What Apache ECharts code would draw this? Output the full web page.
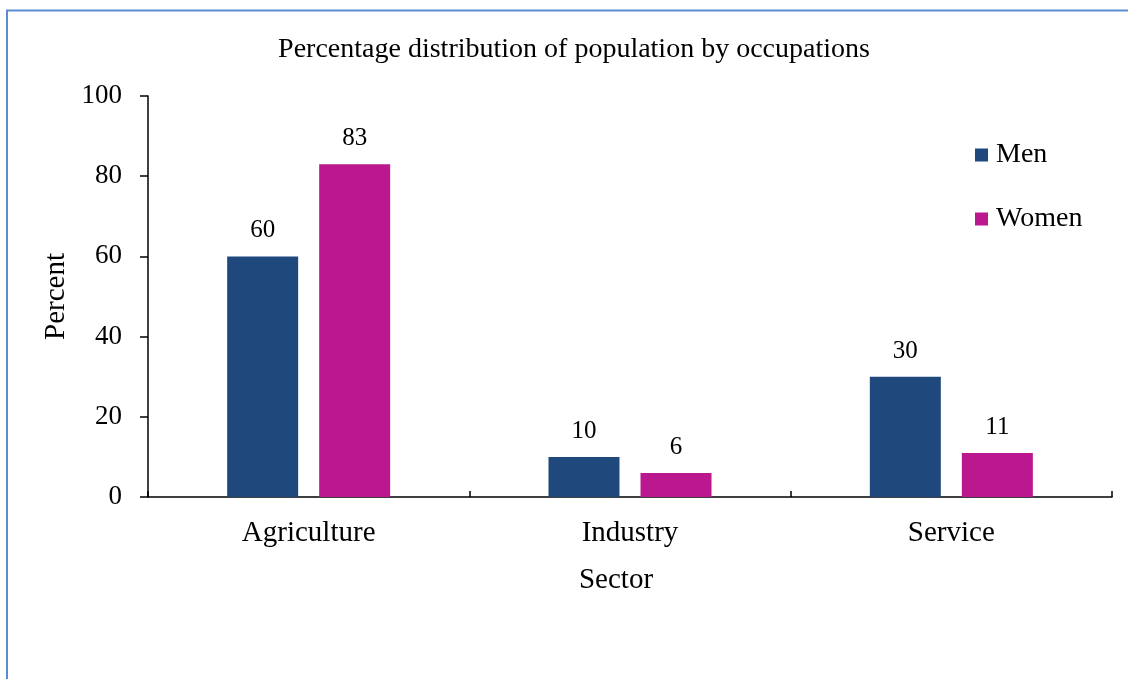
<!DOCTYPE html>
<html>
<head>
<meta charset="utf-8">
<script src="https://cdn.jsdelivr.net/npm/echarts@6/dist/echarts.min.js"></script>
<style>
  html, body { margin: 0; padding: 0; background: #fff; }
  #chart { width: 1128px; height: 679px; }
</style>
</head>
<body>
<div id="chart"></div>
<script>
// Occupation shares by sector, in percent
const sectors = ['Agriculture', 'Industry', 'Service'];
const menValues = [60, 10, 30];
const womenValues = [83, 6, 11];
const yTicks = [0, 20, 40, 60, 80, 100];

const serif = '"Liberation Serif", "Times New Roman", serif';
const chart = echarts.init(document.getElementById('chart'));

chart.setOption({
  backgroundColor: '#fff',
  animation: false,
  title: {
    text: 'Percentage distribution of population by occupations',
    left: 569,
    top: 31,
    textAlign: 'center',
    textStyle: { fontFamily: serif, fontSize: 28, fontWeight: 'normal', color: '#000' }
  },
  legend: {
    orient: 'vertical',
    left: 970,
    top: 136,
    itemWidth: 13,
    itemHeight: 13,
    itemGap: 36,
    icon: 'rect',
    textStyle: { fontFamily: serif, fontSize: 28, color: '#000', padding: [0, 0, 0, 3] },
    data: ['Men', 'Women']
  },
  grid: { left: 148, right: 16, top: 96, bottom: 182 },
  xAxis: {
    type: 'category',
    data: sectors,
    name: 'Sector',
    nameLocation: 'middle',
    nameGap: 69,
    nameTextStyle: { fontFamily: serif, fontSize: 29, color: '#000', padding: [0, 28, 0, 0] },
    axisLine: { lineStyle: { color: '#000', width: 1.5 } },
    axisTick: { show: true, inside: true, length: 6, alignWithLabel: false, lineStyle: { color: '#000', width: 1.5 } },
    axisLabel: { fontFamily: serif, fontSize: 29, color: '#000', margin: 22 }
  },
  yAxis: {
    type: 'value',
    min: yTicks[0],
    max: yTicks[yTicks.length - 1],
    interval: yTicks[1] - yTicks[0],
    name: 'Percent',
    nameLocation: 'middle',
    nameGap: 73,
    nameRotate: 90,
    nameTextStyle: { fontFamily: serif, fontSize: 29, color: '#000' },
    splitLine: { show: false },
    axisLine: { show: true, lineStyle: { color: '#000', width: 1.5 } },
    axisTick: { show: true, length: 8, lineStyle: { color: '#000', width: 1.5 } },
    axisLabel: { fontFamily: serif, fontSize: 27, color: '#000', margin: 26, padding: [4, 0, 0, 0] }
  },
  series: [
    {
      name: 'Men',
      type: 'bar',
      data: menValues,
      barWidth: 71,
      barGap: '29.6%',
      itemStyle: { color: '#1F497D' },
      label: { show: true, position: 'top', distance: 13, fontFamily: serif, fontSize: 25, color: '#000' }
    },
    {
      name: 'Women',
      type: 'bar',
      data: womenValues,
      barWidth: 71,
      itemStyle: { color: '#BB178E' },
      label: { show: true, position: 'top', distance: 13, fontFamily: serif, fontSize: 25, color: '#000' }
    }
  ],
  graphic: [
    { type: 'line', silent: true, shape: { x1: 6, y1: 10.5, x2: 1128, y2: 10.5 }, style: { stroke: '#5B8BD0', lineWidth: 2 } },
    { type: 'line', silent: true, shape: { x1: 7, y1: 10, x2: 7, y2: 679 }, style: { stroke: '#5B8BD0', lineWidth: 2 } }
  ]
});
</script>
</body>
</html>
